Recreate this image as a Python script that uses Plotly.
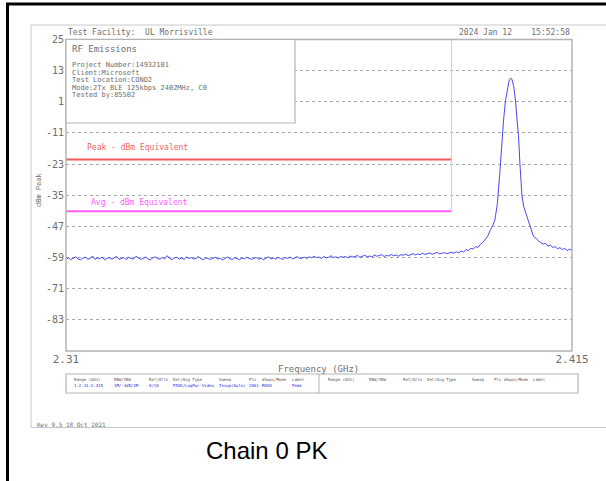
import numpy as np
import plotly.graph_objects as go

W, H = 606, 481

# ---------------- data ----------------
X_RANGE = [2.31, 2.415]
Y_RANGE = [-95, 25]
Y_TICKS = [-83, -71, -59, -47, -35, -23, -11, 1, 13, 25]
Y_TICK_TEXT = ["-83", "-71", "-59", "-47", "-35", "-23", "-11", "1", "13", "25"]
X_TICKS = [2.31, 2.415]
X_TICK_TEXT = ["2.31", "2.415"]

PEAK_LIMIT = -21.2
AVG_LIMIT = -41.2
BAND_EDGE = 2.39

# noise floor sweep 2.3100 .. 2.3900 GHz (0.5 MHz steps)
noise_freq = np.linspace(2.310, 2.390, 161)
noise_level = [
    -59.6, -59.1, -59.8, -59.3, -58.7, -59.5, -59.9, -59.2, -58.9, -59.6, -59.4, -58.4, -59.7, -59.1, -59.5, -58.8, -59.9, -59.3, -59.0, -59.6,
    -59.2, -58.6, -59.7, -59.4, -59.0, -59.8, -58.9, -59.3, -59.6, -58.5, -59.1, -59.7, -59.4, -58.8, -59.5, -59.9, -59.2, -58.7, -59.4, -59.6,
    -59.0, -59.5, -58.3, -59.3, -59.8, -59.1, -58.9, -59.6, -59.2, -59.7, -58.8, -59.4, -59.0, -59.6, -59.3, -58.6, -59.5, -59.8, -59.1, -59.4,
    -59.7, -59.2, -58.9, -59.6, -59.3, -59.9, -59.4, -58.8, -59.5, -59.7, -59.1, -59.6, -59.8, -59.2, -59.5, -58.9, -59.4, -59.7, -59.3, -59.0,
    -59.6, -59.3, -59.8, -59.1, -58.7, -59.5, -59.2, -59.6, -58.9, -59.4, -59.7, -59.0, -59.3, -58.8, -59.5, -59.2, -58.6, -59.4, -59.1, -58.9,
    -59.3, -58.7, -59.1, -58.5, -59.0, -58.8, -59.4, -58.6, -59.1, -58.9, -58.3, -59.0, -58.7, -59.2, -58.5, -58.9, -58.6, -59.1, -58.4, -58.8,
    -58.6, -58.2, -58.9, -58.5, -58.1, -58.7, -58.4, -58.8, -58.0, -58.5, -58.3, -57.9, -58.6, -58.2, -58.4, -57.8, -58.3, -58.0, -58.5, -57.9,
    -58.1, -57.7, -58.3, -57.9, -57.5, -58.0, -57.6, -57.9, -57.3, -57.8, -57.5, -57.2, -57.7, -57.4, -57.0, -57.6, -57.3, -57.1, -57.5, -57.2, -57.0,
]

# carrier region
peak_freq = [
    2.3905, 2.3910, 2.3915, 2.3920, 2.3925, 2.3930, 2.3935, 2.3940, 2.3945, 2.3950,
    2.3955, 2.3960, 2.3965, 2.3970, 2.3975, 2.3980, 2.3985, 2.3990, 2.3995, 2.4000,
    2.4004, 2.4008, 2.4012, 2.4016, 2.4020, 2.4022, 2.4025, 2.4029, 2.4033, 2.4036,
    2.4039, 2.4042, 2.4046, 2.4050, 2.4055, 2.4060, 2.4065, 2.4070, 2.4075, 2.4080,
    2.4085, 2.4090, 2.4095, 2.4100, 2.4105, 2.4110, 2.4115, 2.4120, 2.4125, 2.4130,
    2.4135, 2.4140, 2.4145, 2.4150,
]
peak_level = [
    -57.3, -56.8, -57.2, -56.5, -56.9, -55.9, -56.3, -55.4, -55.7, -54.8,
    -55.1, -53.9, -53.2, -52.0, -50.8, -48.6, -46.9, -44.5, -38.5, -27.0,
    -16.0, -6.0, 1.5, 6.5, 9.6, 10.1, 9.8, 7.0, 1.0, -6.0,
    -12.0, -23.0, -35.0, -39.5, -42.5, -45.0, -48.5, -50.8, -51.5, -52.6,
    -53.2, -53.8, -53.5, -54.6, -54.2, -55.1, -54.8, -55.6, -55.2, -55.9,
    -55.5, -56.3, -55.8, -56.2,
]

info_title = "RF Emissions"
info_lines = [
    "Project Number:14932101",
    "Client:Microsoft",
    "Test Location:COND2",
    "Mode:2Tx BLE 125kbps 2402MHz, C0",
    "Tested by:85502",
]
tbl_headers = ["Range (GHz)", "RBW/VBW", "Ref/Attn", "Det/Avg Type", "Sweep", "Pts", "#Swps/Mode", "Label"]
tbl_values = ["1:2.31-2.415", "1M/-3dB/3M", "0/10", "PEAK/LogPwr-Video", "Inswp(Auto)", "2001", "MAXH", "Peak"]

# ---------------- helpers ----------------
def px(x):
    return x / W

def py(y):
    return 1 - y / H

MONO = "DejaVu Sans Mono"
GRAY = "#6e6e6e"

PL, PR, PT, PB = 66, 572, 39.5, 351

freq = list(noise_freq) + peak_freq
level = list(noise_level) + peak_level

fig = go.Figure()
fig.add_trace(go.Scatter(x=freq, y=level, mode="lines",
                         line=dict(color="#4848f0", width=1), hoverinfo="skip"))
fig.add_trace(go.Scatter(x=[X_RANGE[0], BAND_EDGE], y=[PEAK_LIMIT, PEAK_LIMIT], mode="lines",
                         line=dict(color="#f05a5a", width=2)))
fig.add_trace(go.Scatter(x=[X_RANGE[0], BAND_EDGE], y=[AVG_LIMIT, AVG_LIMIT], mode="lines",
                         line=dict(color="#ff5cff", width=2)))
fig.add_trace(go.Scatter(x=[BAND_EDGE, BAND_EDGE], y=[AVG_LIMIT, Y_RANGE[1]], mode="lines",
                         line=dict(color="#f4b8f4", width=1)))

shapes = []
# outer black frame
shapes.append(dict(type="line", xref="paper", yref="paper", x0=px(7.5), x1=px(7.5), y0=py(3), y1=0,
                   line=dict(color="black", width=3)))
shapes.append(dict(type="line", xref="paper", yref="paper", x0=px(6), x1=1, y0=py(4), y1=py(4),
                   line=dict(color="black", width=3)))
# inner gray frame
shapes.append(dict(type="line", xref="paper", yref="paper", x0=px(31), x1=1, y0=py(25), y1=py(25),
                   line=dict(color="#c8c8c8", width=1)))
shapes.append(dict(type="line", xref="paper", yref="paper", x0=px(31), x1=1, y0=py(427.5), y1=py(427.5),
                   line=dict(color="#c8c8c8", width=1)))
shapes.append(dict(type="line", xref="paper", yref="paper", x0=px(31), x1=px(31), y0=py(25), y1=py(427.5),
                   line=dict(color="#c8c8c8", width=1)))
# plot border
shapes.append(dict(type="rect", xref="paper", yref="paper", x0=px(PL), x1=px(PR), y0=py(PT), y1=py(PB),
                   line=dict(color="#b4b4b4", width=1.5), layer="above"))
# info box
shapes.append(dict(type="rect", xref="paper", yref="paper", x0=px(PL), x1=px(295), y0=py(PT), y1=py(123),
                   line=dict(color="#b4b4b4", width=1.2), fillcolor="white", layer="above"))
# settings table
shapes.append(dict(type="rect", xref="paper", yref="paper", x0=px(66), x1=px(578), y0=py(374), y1=py(393),
                   line=dict(color="#b4b4b4", width=1.2)))
shapes.append(dict(type="line", xref="paper", yref="paper", x0=px(319), x1=px(319), y0=py(374), y1=py(393),
                   line=dict(color="#b4b4b4", width=1)))

ann = []
def text(x, y, s, size, color=GRAY, xanchor="left", family=MONO, angle=0):
    ann.append(dict(x=px(x), y=py(y), xref="paper", yref="paper", text=s, showarrow=False,
                    xanchor=xanchor, yanchor="middle", textangle=angle,
                    font=dict(family=family, size=size, color=color)))

text(66, 32, "Test Facility:  UL Morrisville", 8)
text(572, 32, "2024 Jan 12    15:52:58", 8, xanchor="right")
text(70, 49, info_title, 9)
for i, s in enumerate(info_lines):
    text(70, 65 + i * 7.6, s, 7)
text(85, 147, "Peak - dBm Equivalent", 8, color="#f06464")
text(89, 202, "Avg - dBm Equivalent", 8, color="#ff5cff")
text(39, 190, "dBm Peak", 7, angle=-90, xanchor="center")
text(318, 369, "Frequency (GHz)", 9, xanchor="center")
left_x = [72, 112, 147, 171, 217, 247, 260, 290]
right_x = [326, 367, 401, 425, 470, 492, 502, 531]
for xx, s in zip(left_x, tbl_headers):
    text(xx, 379, s, 4, color="#555555")
for xx, s in zip(left_x, tbl_values):
    text(xx, 385, s, 4, color="#2a2ae6")
for xx, s in zip(right_x, tbl_headers):
    text(xx, 379, s, 4, color="#555555")
text(35, 424, "Rev 9.5 18 Oct 2021", 6)
text(266, 450, "Chain 0 PK", 24, color="black", xanchor="center", family="Liberation Sans, Arial")

fig.update_layout(
    width=W, height=H, margin=dict(l=0, r=0, t=0, b=0, pad=0, autoexpand=False),
    paper_bgcolor="white", plot_bgcolor="white", showlegend=False,
    shapes=shapes, annotations=ann,
    xaxis=dict(domain=[px(PL), px(PR)], range=X_RANGE, showgrid=False, zeroline=False, showline=False,
               tickvals=X_TICKS, ticktext=X_TICK_TEXT, ticks="", automargin=False,
               tickfont=dict(family=MONO, size=11, color=GRAY)),
    yaxis=dict(domain=[py(PB), py(PT)], range=Y_RANGE, showgrid=True, gridcolor="#a8a8a8",
               griddash="dot", gridwidth=1, zeroline=False, showline=False, automargin=False,
               tickvals=Y_TICKS, ticktext=Y_TICK_TEXT, ticks="", ticklabelstandoff=1,
               tickfont=dict(family=MONO, size=10, color=GRAY)),
)

fig.write_html("out.html", config={"displayModeBar": False},
               post_script="document.body.style.margin='0';document.body.style.overflow='hidden';")
